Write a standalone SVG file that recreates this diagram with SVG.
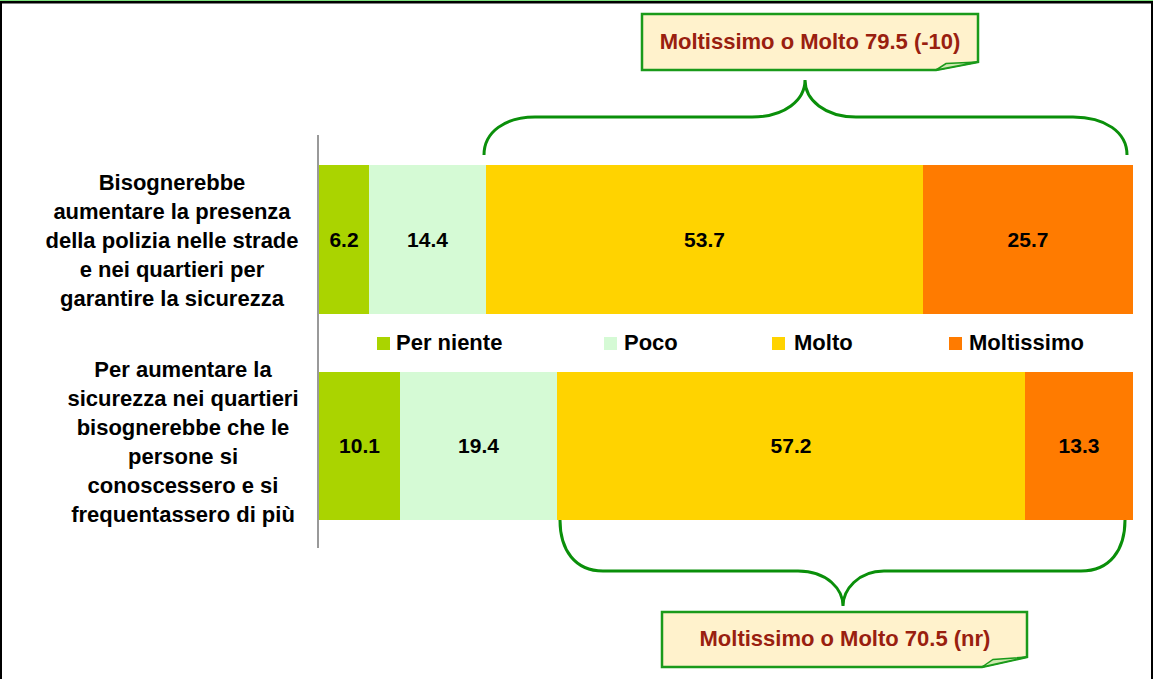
<svg xmlns="http://www.w3.org/2000/svg" width="1153" height="679" viewBox="0 0 1153 679">
<style>
.lbl{font-family:"Liberation Sans",Arial,sans-serif;font-weight:bold;font-size:22px;fill:#000;text-anchor:middle}
.val{font-family:"Liberation Sans",Arial,sans-serif;font-weight:bold;font-size:21px;fill:#000;text-anchor:middle}
.leg{font-family:"Liberation Sans",Arial,sans-serif;font-weight:bold;font-size:22px;fill:#000}
.call{font-family:"Liberation Sans",Arial,sans-serif;font-weight:bold;font-size:22px;fill:#99200F;text-anchor:middle}
.brace{fill:none;stroke:#0A8F0A;stroke-width:3}
.box{fill:#FFF2CC;stroke:#1A9A1A;stroke-width:2.5}
.flap{fill:#CFE8B0;stroke:#1A9A1A;stroke-width:1.5}
.c1{fill:#AAD400}.c2{fill:#D5FAD5}.c3{fill:#FFD300}.c4{fill:#FF7B00}
</style>
<rect x="0" y="0" width="1153" height="679" fill="#fff"/>
<g id="frame">
<rect x="0" y="0" width="1153" height="1" fill="#7CE07C"/>
<rect x="0" y="1" width="1153" height="2.5" fill="#000"/>
<rect x="0" y="1" width="2" height="678" fill="#000"/>
<rect x="1151" y="1" width="2" height="678" fill="#000"/>
</g>
<g id="axis"><line x1="318" y1="135" x2="318" y2="548" stroke="#777" stroke-width="1.5"/></g>
<g id="label1">
<text class="lbl" x="172" y="190">Bisognerebbe</text>
<text class="lbl" x="172" y="219">aumentare la presenza</text>
<text class="lbl" x="172" y="248">della polizia nelle strade</text>
<text class="lbl" x="172" y="277">e nei quartieri per</text>
<text class="lbl" x="172" y="306">garantire la sicurezza</text>
</g>
<g id="label2">
<text class="lbl" x="183" y="377">Per aumentare la</text>
<text class="lbl" x="183" y="406">sicurezza nei quartieri</text>
<text class="lbl" x="183" y="435">bisognerebbe che le</text>
<text class="lbl" x="183" y="464">persone si</text>
<text class="lbl" x="183" y="493">conoscessero e si</text>
<text class="lbl" x="183" y="522">frequentassero di più</text>
</g>
<g id="bar1">
<rect class="c1" x="319" y="165" width="50" height="149"/>
<rect class="c2" x="369" y="165" width="117" height="149"/>
<rect class="c3" x="486" y="165" width="437" height="149"/>
<rect class="c4" x="923" y="165" width="210" height="149"/>
<text class="val" x="344" y="247">6.2</text>
<text class="val" x="427.5" y="247">14.4</text>
<text class="val" x="704.5" y="247">53.7</text>
<text class="val" x="1028" y="247">25.7</text>
</g>
<g id="bar2">
<rect class="c1" x="319" y="372" width="81" height="148"/>
<rect class="c2" x="400" y="372" width="157" height="148"/>
<rect class="c3" x="557" y="372" width="468" height="148"/>
<rect class="c4" x="1025" y="372" width="108" height="148"/>
<text class="val" x="359.5" y="453">10.1</text>
<text class="val" x="478.5" y="453">19.4</text>
<text class="val" x="791" y="453">57.2</text>
<text class="val" x="1079" y="453">13.3</text>
</g>
<g id="legend">
<rect class="c1" x="377" y="337" width="13" height="13"/>
<text class="leg" x="396" y="350">Per niente</text>
<rect class="c2" x="604" y="337" width="13" height="13"/>
<text class="leg" x="624" y="350">Poco</text>
<rect class="c3" x="772" y="337" width="13" height="13"/>
<text class="leg" x="794" y="350">Molto</text>
<rect class="c4" x="949" y="337" width="13" height="13"/>
<text class="leg" x="969" y="350">Moltissimo</text>
</g>
<g id="connectors">
<path class="brace" d="M484,155 C484,132 505,117 535,117 L752,117 C785,117 805,100 805,80 C805,100 825,117 856,117 L1073,117 C1105,117 1127,132 1127,155"/>
<path class="brace" d="M560,520 C560,550 575,571 603,571 L798,571 C828,571 843,590 843,606 C843,590 858,571 884,571 L1081,571 C1110,571 1125,550 1125,520"/>
</g>
<g id="callout1">
<path class="box" d="M642,14 L978,14 L978,62 L936,70 L642,70 Z"/>
<path class="flap" d="M936,70 L978,62 L946,63.5 Z"/>
<text class="call" x="810" y="49">Moltissimo o Molto 79.5 (-10)</text>
</g>
<g id="callout2">
<path class="box" d="M662,612 L1027,612 L1027,657 L982,667 L662,667 Z"/>
<path class="flap" d="M982,667 L1027,657 L993,659.5 Z"/>
<text class="call" x="845" y="646">Moltissimo o Molto 70.5 (nr)</text>
</g>
</svg>
